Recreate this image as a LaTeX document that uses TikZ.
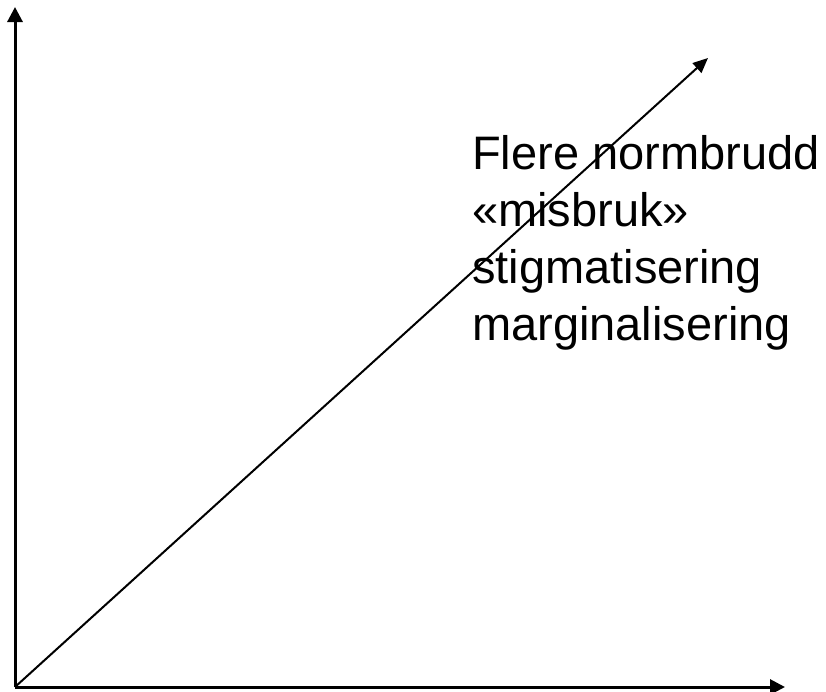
\documentclass[tikz,border=0pt]{standalone}
\usepackage{fontspec}
\setmainfont{Liberation Sans}
\usetikzlibrary{arrows.meta,positioning}

\begin{document}
\begin{tikzpicture}[x=1pt,y=-1pt,
  axis/.style={line width=3pt,-{Triangle[length=15pt,width=15pt]}},
  trend/.style={line width=2pt,-{Triangle[length=15pt,width=13pt]}}]
  \useasboundingbox (0,0) rectangle (826,691);

  % origin and arrow tips
  \coordinate (O) at (15,687);
  \coordinate (ytip) at (15,7);
  \coordinate (xtip) at (785,687);
  \coordinate (dtip) at (708,58);

  \draw[axis] (O) -- (ytip);
  \draw[axis] (O) -- (xtip);
  \draw[trend] (O) -- (dtip);

  % labels
  \node[anchor=north west,inner sep=0pt,align=left,
        font=\fontsize{47}{57}\selectfont] (labels) at (472,135)
    {Flere normbrudd\\«misbruk»\\stigmatisering\\marginalisering};
\end{tikzpicture}
\end{document}
